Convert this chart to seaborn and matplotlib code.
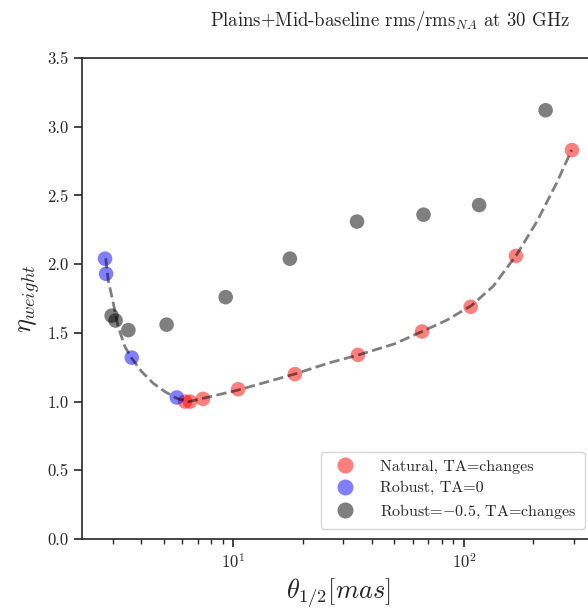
import matplotlib
matplotlib.use("Agg")
import matplotlib.pyplot as plt
import seaborn as sns
import pandas as pd

# ---- data ----
natural_theta = [6.18, 6.49, 7.39, 10.5, 18.5, 34.7, 65.8, 107, 168, 294]
natural_eta = [1.00, 1.00, 1.02, 1.09, 1.20, 1.34, 1.51, 1.69, 2.06, 2.83]

robust_theta = [2.78, 2.81, 3.63, 5.69]
robust_eta = [2.04, 1.93, 1.32, 1.03]

robustm05_theta = [2.97, 3.09, 3.51, 5.14, 9.27, 17.6, 34.4, 66.8, 116.4, 226]
robustm05_eta = [1.625, 1.59, 1.52, 1.56, 1.76, 2.04, 2.31, 2.36, 2.43, 3.12]

fit_theta = [2.80, 2.87, 3.02, 3.17, 3.39, 3.63, 4.01, 4.50, 5.06, 5.69, 6.38,
             7.41, 10.5, 18.5, 26.2, 34.8, 50.0, 65.6, 84.2, 108, 134, 169, 207, 252, 293]
fit_eta = [2.043, 1.885, 1.715, 1.545, 1.400, 1.315, 1.218, 1.133, 1.072, 1.024, 0.999,
           1.024, 1.084, 1.201, 1.283, 1.339, 1.420, 1.509, 1.592, 1.700, 1.840, 2.067, 2.309, 2.589, 2.831]

labels = ["Natural, TA=changes", "Robust, TA=0", r"Robust=$-$0.5, TA=changes"]
colors = ["red", "blue", "black"]

df = pd.concat([
    pd.DataFrame({"theta": natural_theta, "eta": natural_eta, "method": labels[0]}),
    pd.DataFrame({"theta": robust_theta, "eta": robust_eta, "method": labels[1]}),
    pd.DataFrame({"theta": robustm05_theta, "eta": robustm05_eta, "method": labels[2]}),
], ignore_index=True)
fit = pd.DataFrame({"theta": fit_theta, "eta": fit_eta})

sns.set_style("ticks")
plt.rcParams.update({
    "font.family": "serif",
    "font.serif": ["cmr10"],
    "mathtext.fontset": "cm",
    "axes.formatter.use_mathtext": True,
    "axes.unicode_minus": False,
})

fig = plt.figure(figsize=(5.88, 6.14), dpi=100)
ax = fig.add_axes([0.1395, 0.1221, 0.8724, 0.7834])

sns.scatterplot(data=df, x="theta", y="eta", hue="method", hue_order=labels,
                palette=dict(zip(labels, colors)), alpha=0.5, s=110,
                edgecolor="none", linewidth=0, ax=ax, zorder=2)
sns.lineplot(data=fit, x="theta", y="eta", color="black", alpha=0.5,
             linestyle="--", linewidth=2, ax=ax, zorder=3, sort=False,
             estimator=None)

ax.set_xscale("log")
ax.set_xlim(2.21, 370)
ax.set_ylim(0, 3.5)
ax.set_yticks([0.0, 0.5, 1.0, 1.5, 2.0, 2.5, 3.0, 3.5])
ax.set_yticklabels(["0.0", "0.5", "1.0", "1.5", "2.0", "2.5", "3.0", "3.5"])
ax.tick_params(axis="both", which="major", labelsize=12, length=6, width=1.2)
ax.tick_params(axis="x", which="minor", length=3.5, width=1)
for sp in ax.spines.values():
    sp.set_linewidth(1.2)

ax.set_xlabel(r"$\theta_{1/2}[mas]$", fontsize=19)
ax.set_ylabel(r"$\eta_{weight}$", fontsize=19)
ax.set_title(r"Plains+Mid-baseline rms/rms$_{NA}$ at 30 GHz", fontsize=13.5,
             x=0.60, pad=23)

leg = ax.legend(loc="lower right", fontsize=11.5, frameon=True,
                handletextpad=1.2, borderpad=0.5, labelspacing=0.45,
                markerscale=1.1, borderaxespad=0.65)
for h in leg.legend_handles:
    h.set_alpha(0.5)

fig.savefig("out.png", dpi=100)
